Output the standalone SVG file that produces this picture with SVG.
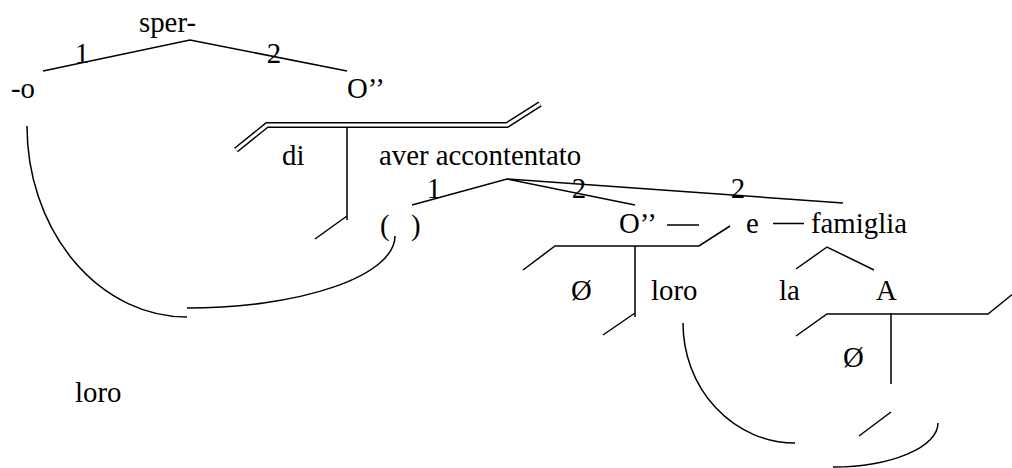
<svg xmlns="http://www.w3.org/2000/svg" width="1012" height="468" viewBox="0 0 1012 468">
<style>
text{font-family:"Liberation Serif","Times New Roman",serif;font-size:28.8px;fill:#000}
.c{text-anchor:middle}
.ln{fill:none;stroke:#000;stroke-width:1.5}
.dbl{fill:none;stroke:#000;stroke-width:6}
.dbli{fill:none;stroke:#fff;stroke-width:3}
</style>
<rect width="1012" height="468" fill="#fff"/>
<g id="connectors">
<polyline class="ln" points="43,71 190,40 347,71"/>
<path class="dbl" d="M236,150 L267,125 L507,125 L540,104"/>
<path class="dbli" d="M236,150 L267,125 L507,125 L540,104"/>
<path class="ln" d="M347,127 V220 M347,216 L315,239"/>
<path class="ln" d="M412,205 L507,179 L635,205 M507,179 L843,203"/>
<path class="ln" d="M523,270 L555,246 L699,246 L730,226 M635,246 V317 M635,313 L603,335"/>
<path class="ln" d="M667,225 H699 M773,223.5 H804"/>
<path class="ln" d="M796,269 L827,247 L874,270"/>
<path class="ln" d="M796,336 L827,314 L988,314 L1014,293 M891,313 V384 M891,412 L859,436"/>
<path class="ln" d="M27,126 A160,191 0 0 0 187,317"/>
<path class="ln" d="M187,308 A208,72 0 0 0 395,236"/>
<path class="ln" d="M683,323 A112,120 0 0 0 795,443"/>
<path class="ln" d="M938,423 A105,44 0 0 1 833,467"/>
</g>
<g id="labels">
<text class="c" x="82" y="63">1</text>
<text class="c" x="274" y="63">2</text>
<text class="c" x="434" y="198">1</text>
<text class="c" x="579" y="198">2</text>
<text class="c" x="738" y="198">2</text>
</g>
<g id="n-sper"><text x="139" y="32">sper-</text></g>
<g id="n-o"><text x="11" y="98">-o</text></g>
<g id="n-O1"><text x="347" y="98">O&#8217;&#8217;</text></g>
<g id="n-di"><text x="282" y="165">di</text></g>
<g id="n-aver"><text x="379" y="165">aver accontentato</text></g>
<g id="n-paren"><text x="380" y="235">(<tspan x="411">)</tspan></text></g>
<g id="n-O2"><text x="619" y="233">O&#8217;&#8217;</text></g>
<g id="n-e"><text x="746" y="233">e</text></g>
<g id="n-famiglia"><text x="811" y="233">famiglia</text></g>
<g id="n-zero1"><text x="571" y="300">&#216;</text></g>
<g id="n-loro1"><text x="651" y="300">loro</text></g>
<g id="n-la"><text x="779" y="300">la</text></g>
<g id="n-A"><text x="876" y="300">A</text></g>
<g id="n-zero2"><text x="843" y="367">&#216;</text></g>
<g id="n-loro2"><text x="75" y="402">loro</text></g>
</svg>
